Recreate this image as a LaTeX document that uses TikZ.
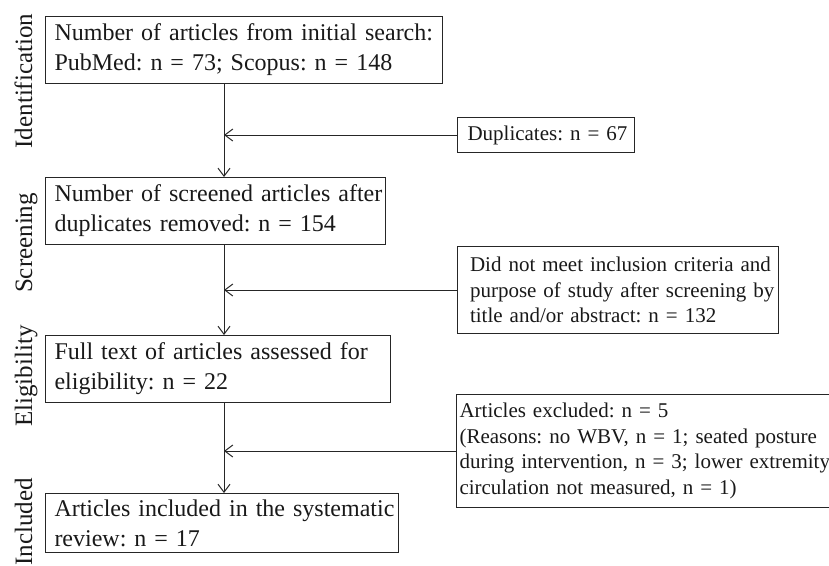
\documentclass[tikz,border=0pt]{standalone}
\usepackage{fontspec}
\setmainfont{Liberation Serif}
\usetikzlibrary{arrows.meta}
\newcommand{\oneline}[1]{\mbox{#1}}
\begin{document}
\frenchspacing
\begin{tikzpicture}[x=1pt,y=-1pt,
  boxbase/.style={draw=black!85, line width=1pt, inner ysep=0pt, align=left, anchor=north west, text=black!90},
  mainbox/.style={boxbase, inner xsep=9pt, font=\frenchspacing\fontsize{24}{30}\selectfont},
  sidebox/.style={boxbase, font=\frenchspacing\fontsize{21}{25.5}\selectfont},
  lab/.style={rotate=90, anchor=base, font=\fontsize{25}{30}\selectfont, text=black!90},
  arr/.style={draw=black!85, line width=1pt, -{Straight Barb[length=8pt, width=12pt, line width=1pt]}}
]
\useasboundingbox (0,0) rectangle (829,565);
\coordinate (sp) at (224,0);
% main boxes
\node[mainbox, text width=379pt, minimum height=67pt] (b1) at (45,16)
  {\oneline{Number of articles from initial search:}\\\oneline{PubMed: n = 73; Scopus: n = 148}};
\node[mainbox, text width=322pt, minimum height=67pt] (b2) at (45,177)
  {\oneline{Number of screened articles after}\\\oneline{duplicates removed: n = 154}};
\node[mainbox, text width=327pt, minimum height=67pt] (b3) at (45,335)
  {\oneline{Full text of articles assessed for}\\\oneline{eligibility: n = 22}};
\node[mainbox, text width=335pt, minimum height=59pt] (b4) at (45,493)
  {\oneline{Articles included in the systematic}\\\oneline{review: n = 17}};
% side boxes
\node[sidebox, inner xsep=10pt, text width=157pt, minimum height=35pt] (s1) at (457,117)
  {\oneline{Duplicates: n = 67}};
\node[sidebox, inner xsep=12.5pt, text width=296pt, minimum height=87pt] (s2) at (457,246)
  {\oneline{Did not meet inclusion criteria and}\\\oneline{purpose of study after screening by}\\\oneline{title and/or abstract: n = 132}};
\node[sidebox, inner xsep=3pt, text width=369pt, minimum height=113pt] (s3) at (456,394)
  {\oneline{Articles excluded: n = 5}\\\oneline{(Reasons: no WBV, n = 1; seated posture}\\\oneline{during intervention, n = 3; lower extremity}\\\oneline{circulation not measured, n = 1)}};
% stage labels
\node[lab] (l1) at (32,81) {Identification};
\node[lab] (l2) at (32,243) {Screening};
\node[lab] (l3) at (32,376) {Eligibility};
\node[lab] (l4) at (32,522) {Included};
% connectors
\draw[arr] (b1.south -| sp) -- (b2.north -| sp);
\draw[arr] (b2.south -| sp) -- (b3.north -| sp);
\draw[arr] (b3.south -| sp) -- (b4.north -| sp);
\draw[arr] (s1.west) -- (s1.west -| sp);
\draw[arr] (s2.west) -- (s2.west -| sp);
\draw[arr] (s3.west) -- (s3.west -| sp);
\end{tikzpicture}
\end{document}
